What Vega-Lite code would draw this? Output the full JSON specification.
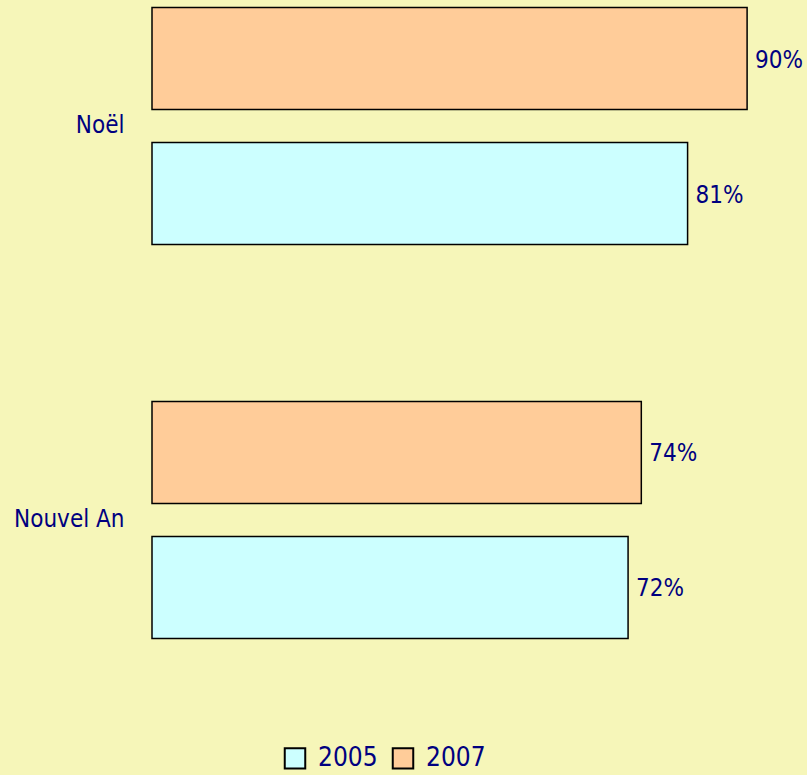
{
  "$schema": "https://vega.github.io/schema/vega-lite/v6.json",
  "autosize": "none",
  "width": 648,
  "height": 646,
  "padding": {"left": 152, "top": 0, "right": 7, "bottom": 129},
  "background": "#F6F6B9",
  "config": {
    "view": {"stroke": null},
    "font": "DejaVu Sans Condensed, sans-serif"
  },
  "data": {
    "values": [
      {"event": "Noël", "year": "2007", "value": 0.90},
      {"event": "Noël", "year": "2005", "value": 0.81},
      {"event": "Nouvel An", "year": "2007", "value": 0.74},
      {"event": "Nouvel An", "year": "2005", "value": 0.72}
    ]
  },
  "encoding": {
    "y": {
      "field": "event",
      "type": "nominal",
      "sort": ["Noël", "Nouvel An"],
      "scale": {"paddingInner": 0.36, "paddingOuter": 0},
      "axis": {
        "title": null,
        "domain": false,
        "ticks": false,
        "labelPadding": 28,
        "labelFontSize": 24,
        "labelColor": "#000080",
        "labelFont": "DejaVu Sans Condensed, sans-serif"
      }
    },
    "yOffset": {
      "field": "year",
      "type": "nominal",
      "sort": ["2007", "2005"],
      "scale": {"paddingInner": 0.2444, "paddingOuter": 0.0556}
    },
    "x": {
      "field": "value",
      "type": "quantitative",
      "scale": {"domain": [0, 0.98], "nice": false},
      "axis": null
    }
  },
  "layer": [
    {
      "mark": {"type": "bar", "stroke": "#000000", "strokeWidth": 1.5},
      "encoding": {
        "color": {
          "field": "year",
          "type": "nominal",
          "scale": {"domain": ["2005", "2007"], "range": ["#CCFFFF", "#FFCC99"]},
          "legend": {
            "title": null,
            "orient": "none",
            "direction": "horizontal",
            "legendX": 130,
            "legendY": 745,
            "symbolType": "square",
            "symbolSize": 420,
            "symbolStrokeColor": "#000000",
            "symbolStrokeWidth": 2,
            "symbolOpacity": 1,
            "labelFontSize": 26,
            "labelColor": "#000080",
            "labelFont": "DejaVu Sans Condensed, sans-serif",
            "columnPadding": 10,
            "labelOffset": 10
          }
        }
      }
    },
    {
      "mark": {
        "type": "text",
        "align": "left",
        "baseline": "middle",
        "dx": 8,
        "dy": 2,
        "fontSize": 24,
        "color": "#000080"
      },
      "encoding": {
        "text": {"field": "value", "type": "quantitative", "format": ".0%"}
      }
    }
  ]
}
